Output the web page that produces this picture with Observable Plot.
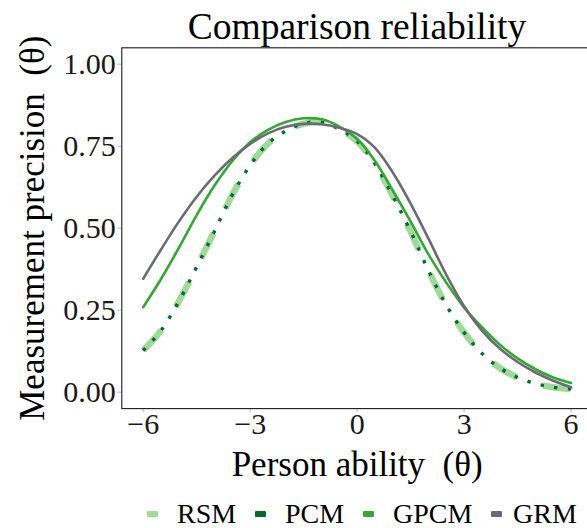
<!DOCTYPE html>
<html>
<head>
<meta charset="utf-8">
<script src="https://cdn.jsdelivr.net/npm/d3@7"></script>
<script src="https://cdn.jsdelivr.net/npm/@observablehq/plot@0.6"></script>
<style>
  html, body { margin: 0; padding: 0; background: #fff; overflow: hidden; }
  #chart {
    position: relative; width: 587px; height: 528px; overflow: hidden;
    font-family: "Liberation Serif", "Times New Roman", serif; color: #000;
  }
  #title {
    position: absolute; top: 8px; left: 121px; width: 472px;
    text-align: center; font-size: 37.5px; line-height: 37px; white-space: nowrap;
  }
  #plot { position: absolute; top: 40px; left: 0; }
  #legend { position: absolute; top: 499.6px; left: 0; width: 600px; height: 28px; }
  #legend .swatch {
    position: absolute; top: 11px; width: 11px; height: 6px; border-radius: 1px;
  }
  #legend .label {
    position: absolute; top: 0; font-size: 28px; line-height: 28px; white-space: nowrap;
  }
</style>
</head>
<body>
<div id="chart">
  <div id="title">Comparison reliability</div>
  <div id="plot"></div>
  <div id="legend"></div>
</div>
<script>
// Person ability grid (θ)
const theta = [-6, -5.5, -5, -4.5, -4, -3.5, -3, -2.5, -2, -1.5, -1, -0.5, 0,
               0.5, 1, 1.5, 2, 2.5, 3, 3.5, 4, 4.5, 5, 5.5, 6];

// Measurement precision for each model
const rsm  = [0.127, 0.188, 0.277, 0.382, 0.491, 0.602, 0.692, 0.758, 0.796, 0.819, 0.823, 0.802, 0.765,
              0.696, 0.598, 0.490, 0.371, 0.265, 0.182, 0.118, 0.074, 0.045, 0.026, 0.015, 0.010];
const pcm  = [0.127, 0.188, 0.277, 0.382, 0.491, 0.602, 0.692, 0.758, 0.796, 0.819, 0.823, 0.802, 0.765,
              0.696, 0.598, 0.490, 0.371, 0.265, 0.182, 0.118, 0.074, 0.045, 0.026, 0.015, 0.010];
const gpcm = [0.259, 0.345, 0.440, 0.540, 0.630, 0.705, 0.762, 0.800, 0.824, 0.835, 0.832, 0.810, 0.772,
              0.705, 0.615, 0.520, 0.420, 0.334, 0.258, 0.198, 0.145, 0.103, 0.070, 0.045, 0.028];
const grm  = [0.346, 0.435, 0.520, 0.596, 0.660, 0.714, 0.757, 0.789, 0.809, 0.818, 0.817, 0.806, 0.787,
              0.745, 0.670, 0.575, 0.468, 0.358, 0.262, 0.188, 0.133, 0.092, 0.060, 0.035, 0.015];

// Axis ticks
const xTicks = [-6, -3, 0, 3, 6];
const yTicks = [0, 0.25, 0.5, 0.75, 1];

// Legend entries
const models = ["RSM", "PCM", "GPCM", "GRM"];
const modelColors = ["#a1d99b", "#006d2c", "#33a833", "#6b6b75"];

const rows = (values) => theta.map((t, i) => ({theta: t, value: values[i]}));
const fmtX = (d) => (d < 0 ? "\u2212" + Math.abs(d) : String(d));

const chart = Plot.plot({
  width: 600,
  height: 450,
  marginLeft: 121.3,
  marginRight: 8,
  marginTop: 7.3,
  marginBottom: 81.9,
  x: {domain: [-6.6, 6.6], label: null},
  y: {domain: [-0.05, 1.05], label: null},
  style: {
    fontFamily: "'Liberation Serif', 'Times New Roman', serif",
    fontSize: "30px",
    color: "#000",
    background: "transparent",
    maxWidth: "none",
    overflow: "visible"
  },
  marks: [
    Plot.axisX({ticks: xTicks, tickFormat: fmtX, tickSize: 4, tickPadding: 0, fontSize: 30,
                stroke: "#b8b8b8", fill: "#1a1a1a", label: null}),
    Plot.axisY({ticks: yTicks, tickFormat: d3.format(".2f"), tickSize: 4, tickPadding: 2, fontSize: 30,
                stroke: "#b8b8b8", fill: "#1a1a1a", label: null}),
    // RSM: thick light dashes
    Plot.line(rows(rsm), {x: "theta", y: "value", curve: "catmull-rom",
      stroke: modelColors[0], strokeWidth: 6.5, strokeDasharray: "27.5,27.5", strokeLinecap: "butt"}),
    // PCM: dark dotted
    Plot.line(rows(pcm), {x: "theta", y: "value", curve: "catmull-rom",
      stroke: modelColors[1], strokeWidth: 3.4, strokeDasharray: "3.4,10.3", strokeLinecap: "butt"}),
    // GPCM: solid green
    Plot.line(rows(gpcm), {x: "theta", y: "value", curve: "catmull-rom",
      stroke: modelColors[2], strokeWidth: 2.6}),
    // GRM: solid gray
    Plot.line(rows(grm), {x: "theta", y: "value", curve: "catmull-rom",
      stroke: modelColors[3], strokeWidth: 2.6}),
    Plot.frame({stroke: "#1a1a1a", strokeWidth: 1.1}),
    // Axis titles
    Plot.text(["Person ability\u2002(\u03b8)"], {text: (d) => d, frameAnchor: "bottom",
      textAnchor: "middle", lineAnchor: "middle", dy: 55.7, fontSize: 35, fill: "#000"}),
    Plot.text(["Measurement precision\u2002(\u03b8)"], {text: (d) => d, frameAnchor: "left",
      textAnchor: "middle", lineAnchor: "middle", rotate: -90, dx: -89.5, fontSize: 35, fill: "#000"})
  ]
});
document.getElementById("plot").append(chart);

// Legend below the chart: swatch and label positions for each entry
const swatchLeft = [147, 255, 363, 491];
const labelLeft = [177, 285, 393, 513];
const legend = document.getElementById("legend");
models.forEach((name, i) => {
  const sw = document.createElement("span");
  sw.className = "swatch";
  sw.style.background = modelColors[i];
  sw.style.left = swatchLeft[i] + "px";
  const lb = document.createElement("span");
  lb.className = "label";
  lb.style.left = labelLeft[i] + "px";
  lb.textContent = name;
  legend.append(sw, lb);
});
</script>
</body>
</html>
